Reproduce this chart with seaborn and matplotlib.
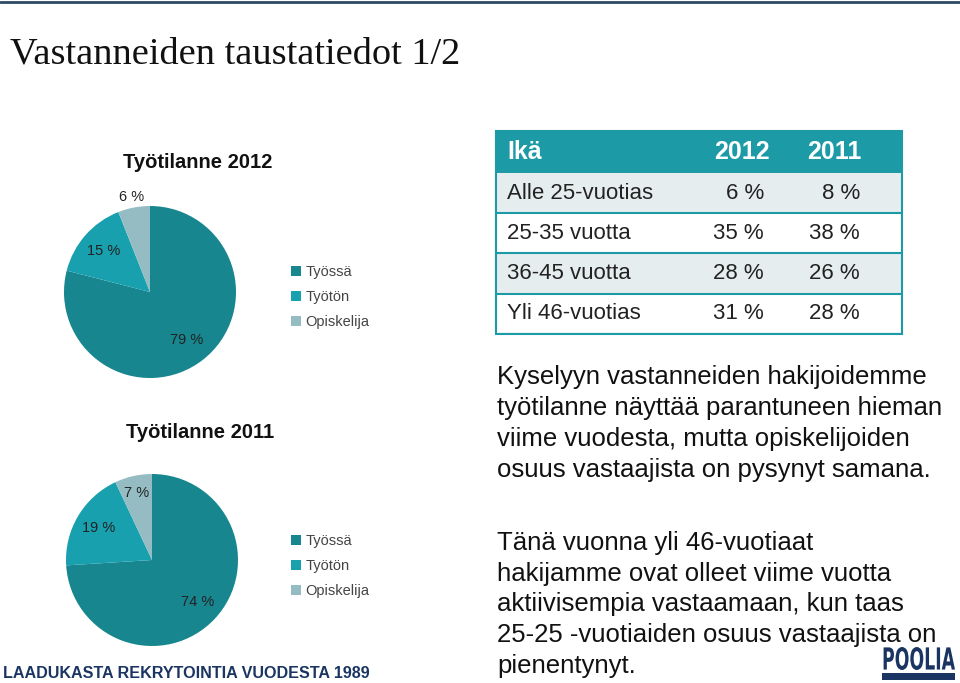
import numpy as np
import matplotlib
matplotlib.use("Agg")
import matplotlib.pyplot as plt
import seaborn as sns
from matplotlib.patches import Rectangle, PathPatch
from matplotlib.textpath import TextPath
from matplotlib.font_manager import FontProperties
from matplotlib.path import Path

sns.set_theme(style="white")
plt.rcParams['font.family'] = ['Liberation Sans', 'DejaVu Sans']

# ========================================
# data
# ========================================
status_labels = ["Työssä", "Työtön", "Opiskelija"]
status_2012 = [79, 15, 6]
status_2011 = [74, 19, 7]

age_groups = ["Alle 25-vuotias", "25-35 vuotta", "36-45 vuotta", "Yli 46-vuotias"]
age_2012 = [6, 35, 28, 31]
age_2011 = [8, 38, 26, 28]
table_header = ["Ikä", "2012", "2011"]

text_1 = ["Kyselyyn vastanneiden hakijoidemme",
          "työtilanne näyttää parantuneen hieman",
          "viime vuodesta, mutta opiskelijoiden",
          "osuus vastaajista on pysynyt samana."]
text_2 = ["Tänä vuonna yli 46-vuotiaat",
          "hakijamme ovat olleet viime vuotta",
          "aktiivisempia vastaamaan, kun taas",
          "25-25 -vuotiaiden osuus vastaajista on",
          "pienentynyt."]

# styles
PIE_COLORS = ["#17868f", "#18a0ae", "#95bcc3"]
TEAL = "#1c9ba7"
NAVY = "#1b3563"
W, H = 960, 683


def fx(x):
    return x / W


def fy(y):
    return 1 - y / H


fig = plt.figure(figsize=(9.6, 6.83), dpi=100)
fig.patch.set_facecolor("white")

# top rule
fig.add_artist(plt.Line2D([0, 1], [fy(2), fy(2)], color="#2e4a66", lw=2))

# slide title
fig.text(fx(10), fy(54), "Vastanneiden taustatiedot 1/2", family="Liberation Serif",
         fontsize=27.6, color="#111111", va="center", ha="left")


# ========================================
# pies
# ========================================
def draw_pie(cx, cy, r, values, title, dists, title_y, legend_y):
    ax = fig.add_axes([fx(cx - r), fy(cy + r), 2 * r / W, 2 * r / H])
    wedges, _ = ax.pie(values, colors=PIE_COLORS, startangle=90, counterclock=False,
                       wedgeprops=dict(linewidth=0))
    ax.set_xlim(-1, 1)
    ax.set_ylim(-1, 1)
    ax.set_aspect("auto")
    for w, v, d in zip(wedges, values, dists):
        ang = np.deg2rad((w.theta1 + w.theta2) / 2)
        ax.text(d * np.cos(ang), d * np.sin(ang), f"{v} %", ha="center", va="center",
                fontsize=10.5, color="#222222", clip_on=False)
    fig.text(fx(cx + 48), fy(title_y), title, ha="center", va="center",
             fontsize=14.5, fontweight="bold", color="#111111")
    fig.legend(wedges, status_labels, loc="upper left",
               bbox_to_anchor=(fx(291), fy(legend_y)), frameon=False,
               fontsize=10.5, handlelength=0.7, handleheight=0.7, handletextpad=0.3,
               labelspacing=0.75, labelcolor="#444444", borderaxespad=0, borderpad=0)


draw_pie(150, 292, 86, status_2012, "Työtilanne 2012", [0.70, 0.72, 1.12], 163, 265)
draw_pie(152, 560, 86, status_2011, "Työtilanne 2011", [0.72, 0.72, 0.80], 432, 534)

# ========================================
# age table
# ========================================
tx0, ty0, tx1, ty1 = 496, 131, 902, 334
axt = fig.add_axes([fx(tx0), fy(ty1), (tx1 - tx0) / W, (ty1 - ty0) / H])
axt.set_xlim(0, tx1 - tx0)
axt.set_ylim(ty1 - ty0, 0)
axt.axis("off")

header_h = 42
row_h = (ty1 - ty0 - header_h) / len(age_groups)
axt.add_patch(Rectangle((0, 0), tx1 - tx0, header_h, color=TEAL, lw=0))
col_x = [11, 274, 365]
axt.text(col_x[0], header_h / 2, table_header[0], color="white", fontsize=18,
         fontweight="bold", ha="left", va="center")
for cx_, lab in zip(col_x[1:], table_header[1:]):
    axt.text(cx_, header_h / 2, lab, color="white", fontsize=18, fontweight="bold",
             ha="right", va="center")

for i, (g, a, b) in enumerate(zip(age_groups, age_2012, age_2011)):
    y0 = header_h + i * row_h
    face = "#e6edef" if i % 2 == 0 else "white"
    axt.add_patch(Rectangle((0, y0), tx1 - tx0, row_h, facecolor=face, lw=0))
    axt.plot([0, tx1 - tx0], [y0 + row_h, y0 + row_h], color=TEAL, lw=1.5)
    yc = y0 + row_h / 2
    axt.text(col_x[0], yc, g, fontsize=16, color="#222222", ha="left", va="center")
    axt.text(col_x[1] - 6, yc, f"{a} %", fontsize=16, color="#222222", ha="right", va="center")
    axt.text(col_x[2] - 1, yc, f"{b} %", fontsize=16, color="#222222", ha="right", va="center")
axt.add_patch(Rectangle((0, 0), tx1 - tx0, ty1 - ty0, fill=False, edgecolor=TEAL, lw=1.5,
                        clip_on=False))

# ========================================
# text blocks
# ========================================
for i, line in enumerate(text_1):
    fig.text(fx(497), fy(377 + i * 31), line, fontsize=18.5, color="#111111",
             ha="left", va="center")
for i, line in enumerate(text_2):
    fig.text(fx(497), fy(543 + i * 30.7), line, fontsize=18.5, color="#111111",
             ha="left", va="center")

# footer
fig.text(fx(3), fy(673), "LAADUKASTA REKRYTOINTIA VUODESTA 1989", fontsize=11.6,
         fontweight="bold", color=NAVY, ha="left", va="center")

# logo: condensed lettering squeezed into its box
tp = TextPath((0, 0), "POOLIA", size=20, prop=FontProperties(family="DejaVu Sans", weight="bold"))
verts = tp.vertices.copy()
vx0, vy0 = verts.min(axis=0)
vx1, vy1 = verts.max(axis=0)
lx0, lx1, ly_top, ly_bot = 882, 955, 647, 670
verts[:, 0] = fx(lx0) + (verts[:, 0] - vx0) / (vx1 - vx0) * (lx1 - lx0) / W
verts[:, 1] = fy(ly_bot) + (verts[:, 1] - vy0) / (vy1 - vy0) * (ly_bot - ly_top) / H
fig.add_artist(PathPatch(Path(verts, tp.codes), facecolor=NAVY, lw=0,
                         transform=fig.transFigure))
fig.add_artist(Rectangle((fx(lx0), fy(680)), (lx1 - lx0) / W, fy(673) - fy(680),
                         color=NAVY, lw=0))

plt.savefig("out.png", dpi=100)
